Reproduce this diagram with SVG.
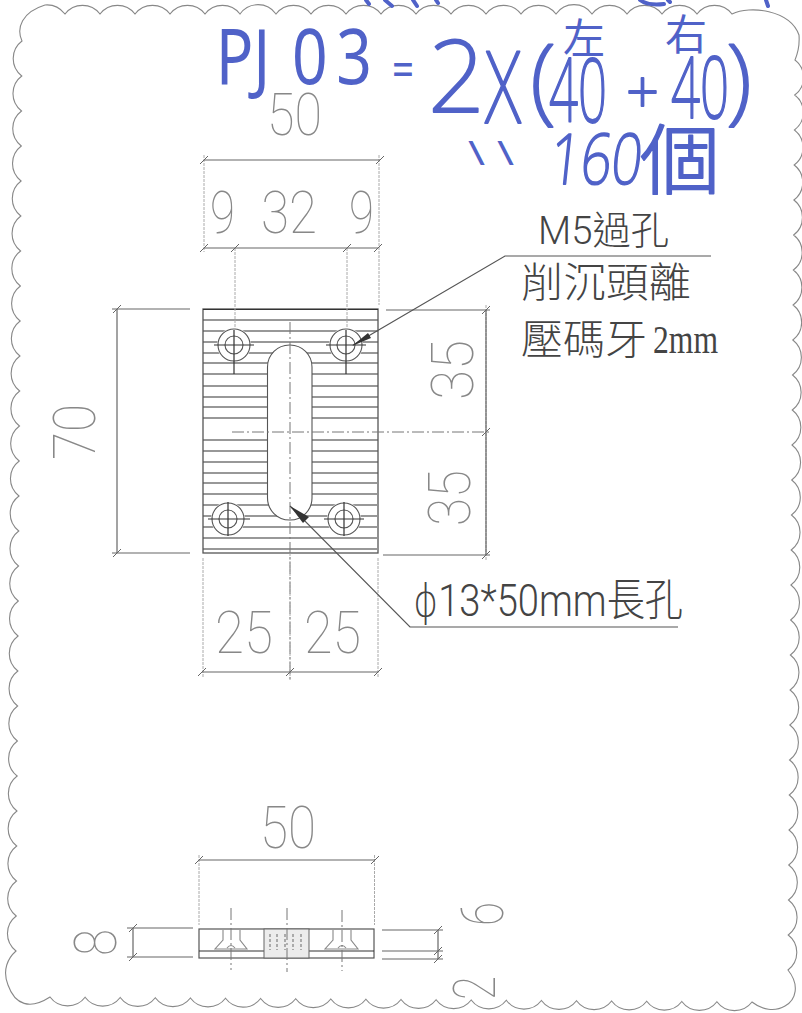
<svg xmlns="http://www.w3.org/2000/svg" width="802" height="1013" viewBox="0 0 802 1013">
<style>
.bd{fill:none;stroke:#888;stroke-width:1.1}
.dim{fill:none;stroke:#666;stroke-width:1.2}
.ext{fill:none;stroke:#aaa;stroke-width:1;stroke-dasharray:3 1}
.ha{fill:none;stroke:#333;stroke-width:1.2}
.cl{fill:none;stroke:#777;stroke-width:1;stroke-dasharray:12 3 2 3}
.ld{fill:none;stroke:#555;stroke-width:1.2}
.num{font-family:Roboto,"Liberation Sans",sans-serif;font-weight:100;font-size:60px;fill:#888}
.lbl{font-family:Roboto,"Noto Sans CJK TC",sans-serif;font-weight:300;fill:#444}
.cjk{font-family:"Noto Sans CJK TC",sans-serif;font-weight:300;fill:#444;font-size:41px}
.hw{font-family:"Noto Sans","Noto Sans CJK TC",sans-serif;font-weight:400;fill:#5062c8}
.hwl{font-family:"Noto Sans","Noto Sans CJK TC",sans-serif;font-weight:200;fill:#5062c8;stroke:#5062c8;stroke-width:1.8;stroke-linejoin:round}
.frag{fill:none;stroke:#5062c8;stroke-width:4;stroke-linecap:round}
</style>
<defs>
<marker id="t" markerUnits="userSpaceOnUse" markerWidth="14" markerHeight="14" refX="7" refY="7" orient="0"><path d="M3 11L11 3" fill="none" stroke="#666" stroke-width="1"/></marker>
</defs>
<rect width="802" height="1013" fill="#fff"/>
<path id="border" class="bd" d="M65 14a22 22 0 0 1 35 0a22 22 0 0 1 35 0a22 22 0 0 1 35 0a22 22 0 0 1 35 0a22 22 0 0 1 35 0a22 22 0 0 1 36 0a22 22 0 0 1 35 0a22 22 0 0 1 35 0a22 22 0 0 1 35 0a22 22 0 0 1 35 0a22 22 0 0 1 35 0a22 22 0 0 1 35 0a22 22 0 0 1 35 0a22 22 0 0 1 35 0a22 22 0 0 1 36 0a22 22 0 0 1 35 0a22 22 0 0 1 35 0a22 22 0 0 1 35 0a22 22 0 0 1 35 0C750 5 790 10 799 35Q800 48 795 60a22 22 0 0 1 -.27 35a22 22 0 0 1 -.27 35a22 22 0 0 1 -.27 35a22 22 0 0 1 -.27 35a22 22 0 0 1 -.27 35a22 22 0 0 1 -.27 35a22 22 0 0 1 -.27 35a22 22 0 0 1 -.27 35a22 22 0 0 1 -.27 35a22 22 0 0 1 -.27 35a22 22 0 0 1 -.27 35a22 22 0 0 1 -.27 35a22 22 0 0 1 -.27 35a22 22 0 0 1 -.27 35a22 22 0 0 1 -.27 35a22 22 0 0 1 -.27 35a22 22 0 0 1 -.27 35a22 22 0 0 1 -.27 35a22 22 0 0 1 -.27 35a22 22 0 0 1 -.27 35a22 22 0 0 1 -.27 35a22 22 0 0 1 -.27 35a22 22 0 0 1 -.27 35a22 22 0 0 1 -.27 35a22 22 0 0 1 -.27 35a22 22 0 0 1 -.27 35C800 985 796 1000 785 1006C775 1012 762 1010 752 1002a22 22 0 0 1 -35.1 -.25a22 22 0 0 1 -35.1 -.25a22 22 0 0 1 -35.1 -.25a22 22 0 0 1 -35.1 -.25a22 22 0 0 1 -35.1 -.25a22 22 0 0 1 -35.1 -.25a22 22 0 0 1 -35.1 -.25a22 22 0 0 1 -35.1 -.25a22 22 0 0 1 -35.1 -.25a22 22 0 0 1 -35.1 -.25a22 22 0 0 1 -35.1 -.25a22 22 0 0 1 -35.1 -.25a22 22 0 0 1 -35.1 -.25a22 22 0 0 1 -35.1 -.25a22 22 0 0 1 -35.1 -.25a22 22 0 0 1 -35.1 -.25a22 22 0 0 1 -35.1 -.25a22 22 0 0 1 -35.1 -.25a22 22 0 0 1 -35.1 -.25a22 22 0 0 1 -35.1 -.25C30 1010 15 1005 8 985C2 970 8 958 16 951a22 22 0 0 1 .23 -35a22 22 0 0 1 .23 -35a22 22 0 0 1 .23 -35a22 22 0 0 1 .23 -35a22 22 0 0 1 .23 -35a22 22 0 0 1 .23 -35a22 22 0 0 1 .23 -35a22 22 0 0 1 .23 -35a22 22 0 0 1 .23 -35a22 22 0 0 1 .23 -35a22 22 0 0 1 .23 -35a22 22 0 0 1 .23 -35a22 22 0 0 1 .23 -35a22 22 0 0 1 .23 -35a22 22 0 0 1 .23 -35a22 22 0 0 1 .23 -35a22 22 0 0 1 .23 -35a22 22 0 0 1 .23 -35a22 22 0 0 1 .23 -35a22 22 0 0 1 .23 -35a22 22 0 0 1 .23 -35a22 22 0 0 1 .23 -35a22 22 0 0 1 .23 -35a22 22 0 0 1 .23 -35a22 22 0 0 1 .23 -35a22 22 0 0 1 .23 -35C16 28 22 12 45 5Q57 4 65 14Z"/>
<g id="plate">
<path class="ha" d="M203 320H378M203 331H378M203 342H378M203 353H378M203 363H378M203 374H378M203 386H378M203 397H378M203 407H378M203 418H378M203 440H378M203 451H378M203 462H378M203 473H378M203 483H377M203 494H377M203 505H377M203 516H377M203 527H377M203 538H377M203 549H377"/>
<rect x="203" y="309" width="175" height="244" fill="none" stroke="#555" stroke-width="1.3"/>
<path d="M203 309.500H378" class="ha"/>
<rect x="267.500" y="345" width="44.500" height="175" rx="22" fill="#fff" stroke="#555" stroke-width="1.1"/>
</g>
<g id="holes">
<g id="hole-ul"><circle cx="234" cy="345" r="17" fill="#fff"/><circle cx="234" cy="345" r="16" fill="none" stroke="#555" stroke-width="1.1"/><circle cx="234" cy="345" r="9" fill="none" stroke="#555" stroke-width="1.1"/><path class="ha" d="M214 345H254M234 330V374"/></g>
<g id="hole-ur"><circle cx="346" cy="345" r="17" fill="#fff"/><circle cx="346" cy="345" r="16" fill="none" stroke="#555" stroke-width="1.1"/><circle cx="346" cy="345" r="9" fill="none" stroke="#555" stroke-width="1.1"/><path class="ha" d="M326 345H366M346 330V374"/></g>
<g id="hole-ll"><circle cx="228" cy="519" r="17" fill="#fff"/><circle cx="228" cy="519" r="16" fill="none" stroke="#555" stroke-width="1.1"/><circle cx="228" cy="519" r="9" fill="none" stroke="#555" stroke-width="1.1"/><path class="ha" d="M208 519H250M228 502V536"/></g>
<g id="hole-lr"><circle cx="344" cy="519" r="17" fill="#fff"/><circle cx="344" cy="519" r="16" fill="none" stroke="#555" stroke-width="1.1"/><circle cx="344" cy="519" r="9" fill="none" stroke="#555" stroke-width="1.1"/><path class="ha" d="M324 519H364M344 502V536"/></g>
</g>
<g id="centerlines">
<path class="cl" d="M290 322V680M232 432H492"/>
</g>
<g id="connectors">
<path class="ext" d="M204 155V252M379 155V305M235 248V330M347 248V330M203 558V678M290 553V680M378 558V678M486 305V560M199 855V925M374.500 855V925"/>
<path class="dim" marker-start="url(#t)" marker-end="url(#t)" d="M204 160H380"/>
<path class="dim" marker-start="url(#t)" marker-mid="url(#t)" marker-end="url(#t)" d="M204 248L235 248L347 248L378 248"/>
<path class="dim" d="M112 309H190M112 553H190M386 310H490M383 555H490"/>
<path class="dim" marker-start="url(#t)" marker-end="url(#t)" d="M117 309V553"/>
<path class="dim" marker-start="url(#t)" marker-mid="url(#t)" marker-end="url(#t)" d="M486 310L486 432L486 555"/>
<path class="dim" marker-start="url(#t)" marker-mid="url(#t)" marker-end="url(#t)" d="M202 672L290 672L378 672"/>
<path class="dim" marker-start="url(#t)" marker-end="url(#t)" d="M199 860H375"/>
<path class="dim" d="M127 928H193M127 957H193M382 930H443M382 951H443M382 959H443"/>
<path class="dim" marker-start="url(#t)" marker-end="url(#t)" d="M133 928V957"/>
<path class="dim" marker-start="url(#t)" marker-mid="url(#t)" marker-end="url(#t)" d="M438 930L438 951L438 959"/>
<path class="ld" d="M353 345L505 256H711"/>
<path class="ld" d="M290 506L410 627H678"/>
<polygon points="352,346 368,333 371,338" fill="#333"/>
<polygon points="290,506 309,517 303,523" fill="#333"/>
</g>
<g id="side-view">
<rect x="199" y="929" width="175" height="29" fill="none" stroke="#555" stroke-width="1.2"/>
<path class="ha" d="M199 951H374"/>
<rect x="264" y="929" width="45" height="29" fill="#ececec" stroke="#666" stroke-width="1"/>
<path d="M270 934v16M277 934v16M285 934v16M293 934v16M301 934v16" fill="none" stroke="#aaa" stroke-width="2" stroke-dasharray="3 2"/>
<path class="bd" d="M223 930V940L215 949H247L240 940V930M333 930V940L325 949H358L351 940V930M227 948Q231 943 235 948M338 948Q342 943 346 948"/>
<path class="cl" d="M231 908V970M287 908V972M342 910V971"/>
</g>
<g id="dimension-texts">
<text class="num" x="267" y="135" textLength="55" lengthAdjust="spacingAndGlyphs">50</text>
<text class="num" x="210" y="233" textLength="25" lengthAdjust="spacingAndGlyphs">9</text>
<text class="num" x="261" y="233" textLength="56" lengthAdjust="spacingAndGlyphs">32</text>
<text class="num" x="349" y="233" textLength="25" lengthAdjust="spacingAndGlyphs">9</text>
<text class="num" transform="translate(95 460) rotate(-90)" textLength="56" lengthAdjust="spacingAndGlyphs">70</text>
<text class="num" transform="translate(473 400) rotate(-90)" textLength="60" lengthAdjust="spacingAndGlyphs">35</text>
<text class="num" transform="translate(470 526) rotate(-90)" textLength="56" lengthAdjust="spacingAndGlyphs">35</text>
<text class="num" x="215" y="653" textLength="58" lengthAdjust="spacingAndGlyphs">25</text>
<text class="num" x="304" y="653" textLength="57" lengthAdjust="spacingAndGlyphs">25</text>
<text class="num" x="260" y="848" textLength="56" lengthAdjust="spacingAndGlyphs">50</text>
<text class="num" transform="translate(116 956) rotate(-90)" textLength="27" lengthAdjust="spacingAndGlyphs">8</text>
<text class="num" transform="translate(503 926) rotate(-90)" textLength="24" lengthAdjust="spacingAndGlyphs">6</text>
<text class="num" transform="translate(495 1000) rotate(-90)" textLength="24" lengthAdjust="spacingAndGlyphs">2</text>
</g>
<g id="labels">
<text class="lbl" x="538" y="244" font-size="39" textLength="131" lengthAdjust="spacingAndGlyphs">M5過孔</text>
<text class="cjk" x="521" y="297" textLength="170" lengthAdjust="spacingAndGlyphs">削沉頭離</text>
<text class="cjk" x="521" y="354" textLength="126" lengthAdjust="spacingAndGlyphs">壓碼牙</text>
<text x="653" y="353" font-family="Liberation Serif,serif" font-size="40" fill="#444" textLength="65" lengthAdjust="spacingAndGlyphs">2mm</text>
<text class="lbl" x="413" y="616" font-size="44" textLength="270" lengthAdjust="spacingAndGlyphs"><tspan font-family="DejaVu Sans" font-weight="200">ϕ</tspan>13*50mm長孔</text>
</g>
<g id="handwriting">
<text class="hw" transform="scale(.82 1)" x="263 309 356 410" y="84" font-size="76">PJ03</text>
<text class="hw" x="392" y="86" font-size="48" textLength="22" lengthAdjust="spacingAndGlyphs">=</text>
<text class="hwl" x="428" y="112" font-size="100" textLength="57" lengthAdjust="spacingAndGlyphs">2</text>
<text class="hwl" x="485" y="123" font-size="100" textLength="36" lengthAdjust="spacingAndGlyphs">X</text>
<text class="hwl" x="530" y="112" font-size="95" textLength="26" lengthAdjust="spacingAndGlyphs">(</text>
<text class="hw" x="563" y="54" font-size="42">左</text>
<text class="hwl" x="549" y="122" font-size="88" textLength="58" lengthAdjust="spacingAndGlyphs">40</text>
<text class="hwl" x="626" y="114" font-size="60" textLength="33" lengthAdjust="spacingAndGlyphs">+</text>
<text class="hw" x="665" y="50" font-size="42">右</text>
<text class="hwl" x="671" y="118" font-size="85" textLength="58" lengthAdjust="spacingAndGlyphs">40</text>
<text class="hwl" x="726" y="112" font-size="95" textLength="26" lengthAdjust="spacingAndGlyphs">)</text>
<text class="hw" x="468" y="165" font-size="32" textLength="46" lengthAdjust="spacingAndGlyphs">\ \</text>
<text class="hwl" transform="translate(548 184) skewX(-6)" font-size="70" textLength="92" lengthAdjust="spacingAndGlyphs">160</text>
<text class="hwl" x="640" y="188" font-size="76" textLength="80" lengthAdjust="spacingAndGlyphs">個</text>
<path class="frag" d="M366 0L369 4M385 0L392 6M413 0L417 6M436 0L438 3M640 0Q648 6 664 4M668 0L670 2M766 0L768 6"/>
</g>
</svg>
